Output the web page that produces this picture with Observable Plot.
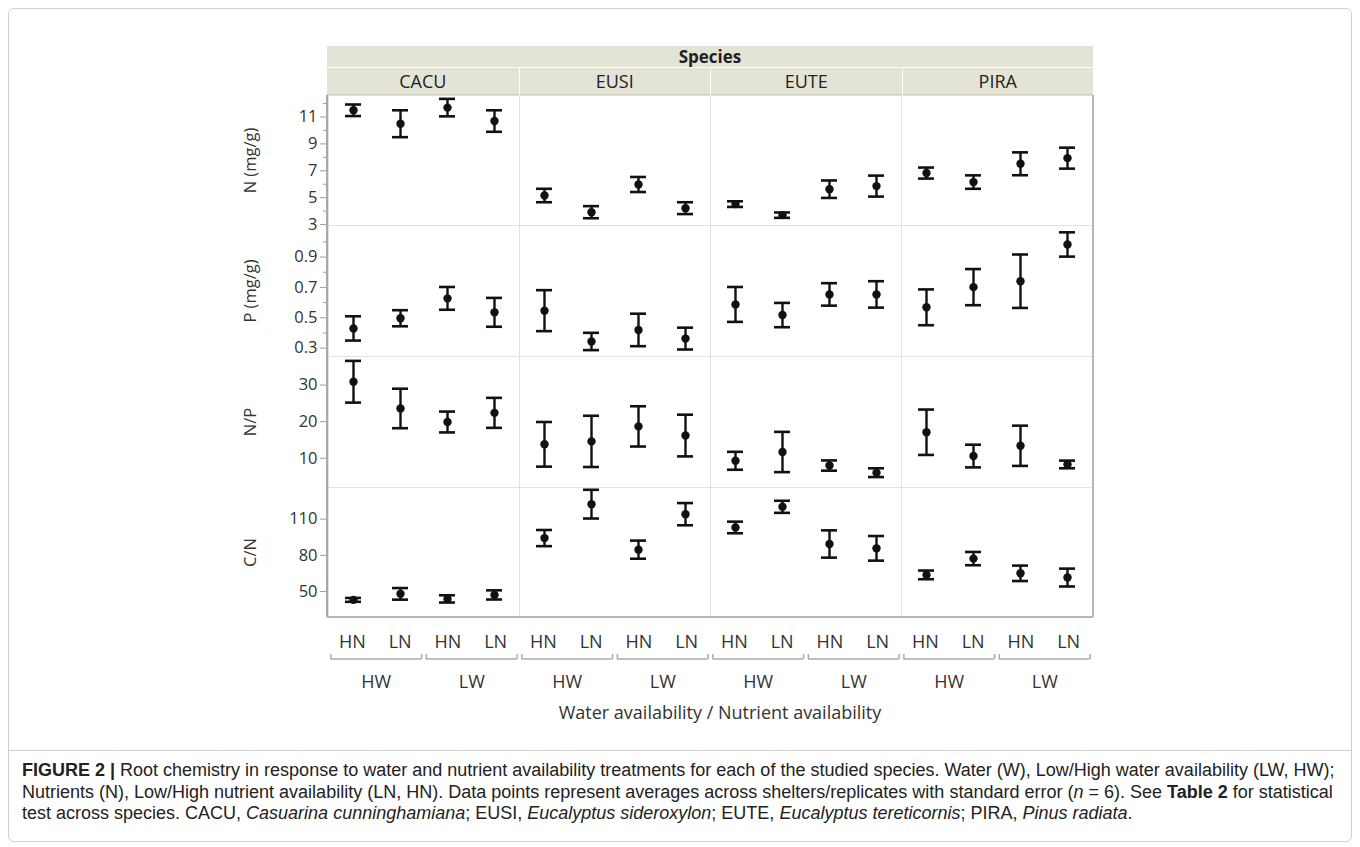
<!DOCTYPE html>
<html>
<head>
<meta charset="utf-8">
<script src="https://cdn.jsdelivr.net/npm/d3@7"></script>
<script src="https://cdn.jsdelivr.net/npm/@observablehq/plot@0.6"></script>
<style>
  html, body { margin: 0; padding: 0; background: #fff; }
  body { width: 1360px; height: 847px; position: relative; overflow: hidden; font-family: "Open Sans", sans-serif; }
  .abs { position: absolute; }
  svg { overflow: visible; }
  .band { position: absolute; background: #e4e4d6; color: #222; text-align: center; box-sizing: border-box; }
  #caption { font-family: "Liberation Sans", Arial, sans-serif; font-size: 18px; line-height: 21.5px; color: #222; }
</style>
</head>
<body>
<div id="outer" class="abs" style="left:8px;top:8px;width:1344px;height:834px;border:1px solid #cfcfcf;border-radius:6px;box-sizing:border-box;"></div>
<div id="root"></div>
<script>
// ---------------- data ----------------
const species = ["CACU", "EUSI", "EUTE", "PIRA"];
const waterLevels = ["HW", "LW"];
const nutrientLevels = ["HN", "LN"];
const treatments = ["HW-HN", "HW-LN", "LW-HN", "LW-LN"];
const measureLabels = ["N (mg/g)", "P (mg/g)", "N/P", "C/N"];

// means and standard errors, rows = species, columns = treatments
const nMean = [[11.5, 10.5, 11.7, 10.7], [5.16, 3.92, 5.98, 4.22], [4.52, 3.70, 5.63, 5.86], [6.83, 6.16, 7.52, 7.94]];
const nSE   = [[0.43, 1.0, 0.65, 0.8], [0.5, 0.45, 0.56, 0.44], [0.21, 0.2, 0.65, 0.78], [0.41, 0.5, 0.85, 0.78]];
const pMean = [[0.43, 0.497, 0.628, 0.536], [0.547, 0.344, 0.42, 0.363], [0.588, 0.518, 0.654, 0.654], [0.569, 0.702, 0.741, 0.983]];
const pSE   = [[0.08, 0.053, 0.075, 0.095], [0.135, 0.057, 0.107, 0.072], [0.115, 0.08, 0.074, 0.087], [0.118, 0.119, 0.176, 0.08]];
const npMean = [[30.9, 23.6, 19.9, 22.4], [13.8, 14.6, 18.7, 16.2], [9.3, 11.7, 8.0, 6.05], [17.1, 10.6, 13.4, 8.3]];
const npSE   = [[5.7, 5.4, 2.85, 4.1], [6.1, 7.0, 5.5, 5.7], [2.45, 5.5, 1.4, 1.2], [6.2, 3.1, 5.5, 1.05]];
const cnMean = [[43.1, 48.1, 43.9, 47.2], [94.3, 122.4, 84.7, 114.1], [103.1, 120.2, 89.4, 85.8], [63.8, 77.3, 65.1, 61.6]];
const cnSE   = [[1.6, 4.8, 3.0, 3.8], [6.7, 11.9, 7.5, 9.2], [4.8, 5.0, 11.3, 10.2], [3.6, 5.5, 6.4, 7.4]];

// axis ticks and scale extents
const nTicks = [3, 5, 7, 9, 11], nMinor = [4, 6, 8, 10, 12], nDomain = [2.93, 12.6];
const pTicks = [0.3, 0.5, 0.7, 0.9], pMinor = [0.4, 0.6, 0.8, 1.0], pDomain = [0.245, 1.108];
const npTicks = [10, 20, 30], npMinor = [], npDomain = [2.0, 37.8];
const cnTicks = [50, 80, 110], cnMinor = [], cnDomain = [28.5, 136.2];

// ---------------- layout ----------------
const W = 1130, ML = 327, MR = 37;
const rowTops = [95, 225, 356, 487];
const rowHeights = [130, 131, 131, 130];
const plotBottom = 617;
const ink = "#111", axisGrey = "#9c9c9c", textCol = "#333";
const FONT = "Open Sans";

const root = document.getElementById("root");
function place(node, left, top) {
  const wrap = document.createElement("div");
  wrap.className = "abs";
  wrap.style.left = left + "px";
  wrap.style.top = top + "px";
  wrap.appendChild(node);
  root.appendChild(wrap);
  return wrap;
}

function tidy(mean, se) {
  const out = [];
  species.forEach((s, i) => treatments.forEach((t, j) => out.push({species: s, trt: t, mean: mean[i][j], se: se[i][j]})));
  return out;
}

const rows = [
  {label: measureLabels[0], data: tidy(nMean, nSE), ticks: nTicks, minor: nMinor, domain: nDomain},
  {label: measureLabels[1], data: tidy(pMean, pSE), ticks: pTicks, minor: pMinor, domain: pDomain},
  {label: measureLabels[2], data: tidy(npMean, npSE), ticks: npTicks, minor: npMinor, domain: npDomain},
  {label: measureLabels[3], data: tidy(cnMean, cnSE), ticks: cnTicks, minor: cnMinor, domain: cnDomain}
];

rows.forEach((row, r) => {
  const marks = [
    Plot.frame({stroke: "#e2e2e2", strokeWidth: 1}),
    Plot.axisY({ticks: row.ticks, tickSize: 8, tickPadding: 3, stroke: axisGrey, fill: textCol, fontSize: 16.5,
      label: row.label, labelAnchor: "center", labelOffset: 84, labelArrow: "none"}),
    Plot.ruleX(row.data, {fx: "species", x: "trt", y1: d => d.mean - d.se, y2: d => d.mean + d.se, stroke: ink, strokeWidth: 2.4}),
    Plot.tickY(row.data, {fx: "species", x: "trt", y: d => d.mean + d.se, stroke: ink, strokeWidth: 2.6}),
    Plot.tickY(row.data, {fx: "species", x: "trt", y: d => d.mean - d.se, stroke: ink, strokeWidth: 2.6}),
    Plot.dot(row.data, {fx: "species", x: "trt", y: "mean", r: 4.2, fill: ink, stroke: "none"})
  ];
  if (row.minor.length) {
    marks.splice(1, 0, Plot.axisY({ticks: row.minor, tickSize: 5, tickFormat: () => "", stroke: axisGrey, label: null}));
  }
  const chart = Plot.plot({
    width: W, height: rowHeights[r],
    marginLeft: ML, marginRight: MR, marginTop: 0, marginBottom: 0,
    style: {fontFamily: FONT, fontSize: "16.5px", color: textCol, background: "transparent", overflow: "visible"},
    fx: {domain: species, padding: 0, axis: null},
    x: {type: "band", domain: treatments, paddingInner: 2 / 3, paddingOuter: 1 / 3, axis: null},
    y: {domain: row.domain},
    marks
  });
  place(chart, 0, rowTops[r]);
});

// axis lines around the panel grid
function line(left, top, w, h, col) {
  const d = document.createElement("div");
  d.className = "abs";
  Object.assign(d.style, {left: left + "px", top: top + "px", width: w + "px", height: h + "px", background: col});
  root.appendChild(d);
}
line(ML - 1, rowTops[0], 2, plotBottom - rowTops[0], "#a8a8a8");
line(1092, rowTops[0], 1.5, plotBottom - rowTops[0], "#b8b8b8");
line(ML, plotBottom - 1, 1093 - ML, 1.5, "#b8b8b8");

// header bands
const hdr1 = document.createElement("div");
hdr1.className = "band";
Object.assign(hdr1.style, {left: ML + "px", top: "46px", width: (1093 - ML) + "px", height: "21px", fontWeight: "700", fontSize: "17px", lineHeight: "21px"});
hdr1.textContent = "Species";
root.appendChild(hdr1);
const colW = (1093 - ML) / species.length;
species.forEach((s, i) => {
  const b = document.createElement("div");
  b.className = "band";
  Object.assign(b.style, {left: (ML + i * colW + (i ? 1 : 0)) + "px", top: "68px", width: (colW - (i ? 1 : 0)) + "px", height: "27px",
    fontSize: "18px", lineHeight: "26px", borderBottom: "1.5px solid #cfcfbf"});
  b.textContent = s;
  root.appendChild(b);
});

// bottom axis: nutrient labels and water groups
const trtRows = species.flatMap(s => treatments.map((t, j) => ({species: s, idx: j, nut: nutrientLevels[j % 2]})));
const groupRows = species.flatMap(s => waterLevels.map((w, g) => ({species: s, g, water: w})));
const groupEnds = groupRows.flatMap(d => [{...d, end: 0}, {...d, end: 1}]);

const labelsPlot = Plot.plot({
  width: W, height: 80, marginLeft: ML, marginRight: MR, marginTop: 0, marginBottom: 0,
  style: {fontFamily: FONT, fontSize: "18px", color: textCol, background: "transparent", overflow: "visible"},
  fx: {domain: species, padding: 0, axis: null},
  x: {domain: [0, 4], axis: null},
  marks: [
    Plot.text(trtRows, {fx: "species", x: d => d.idx + 0.5, text: "nut", frameAnchor: "top", dy: 18, fontSize: 18, fill: textCol}),
    Plot.text(groupRows, {fx: "species", x: d => 2 * d.g + 1, text: "water", frameAnchor: "top", dy: 58, fontSize: 18, fill: textCol})
  ]
});
place(labelsPlot, 0, plotBottom);

const bracketPlot = Plot.plot({
  width: W, height: 5, marginLeft: ML, marginRight: MR, marginTop: 0, marginBottom: 0,
  style: {background: "transparent", overflow: "visible"},
  fx: {domain: species, padding: 0, axis: null},
  x: {domain: [0, 4], axis: null},
  marks: [
    Plot.ruleY(groupRows, {fx: "species", x1: d => 2 * d.g + 0.05, x2: d => 2 * d.g + 1.95, y: null, dy: 2, stroke: "#aaa", strokeWidth: 1.5}),
    Plot.ruleX(groupEnds, {fx: "species", x: d => 2 * d.g + (d.end ? 1.95 : 0.05), stroke: "#aaa", strokeWidth: 1.5})
  ]
});
place(bracketPlot, 0, 654);

// axis title
const title = document.createElement("div");
title.className = "abs";
Object.assign(title.style, {left: (ML + 10) + "px", width: (1093 - ML) + "px", top: "700px", textAlign: "center", fontSize: "18px", color: textCol, fontFamily: FONT});
title.textContent = "Water availability / Nutrient availability";
root.appendChild(title);

// caption
const cap = document.createElement("div");
cap.id = "caption";
cap.className = "abs";
Object.assign(cap.style, {left: "8px", top: "750px", width: "1344px", padding: "9px 14px", boxSizing: "border-box", borderTop: "1px solid #cfcfcf"});
cap.innerHTML = '<b>FIGURE 2 |</b> Root chemistry in response to water and nutrient availability treatments for each of the studied species. Water (W), Low/High water availability (LW, HW);<br>' +
  'Nutrients (N), Low/High nutrient availability (LN, HN). Data points represent averages across shelters/replicates with standard error (<i>n</i> = 6). See <b>Table 2</b> for statistical<br>' +
  'test across species. CACU, <i>Casuarina cunninghamiana</i>; EUSI, <i>Eucalyptus sideroxylon</i>; EUTE, <i>Eucalyptus tereticornis</i>; PIRA, <i>Pinus radiata</i>.';
root.appendChild(cap);
</script>
</body>
</html>
